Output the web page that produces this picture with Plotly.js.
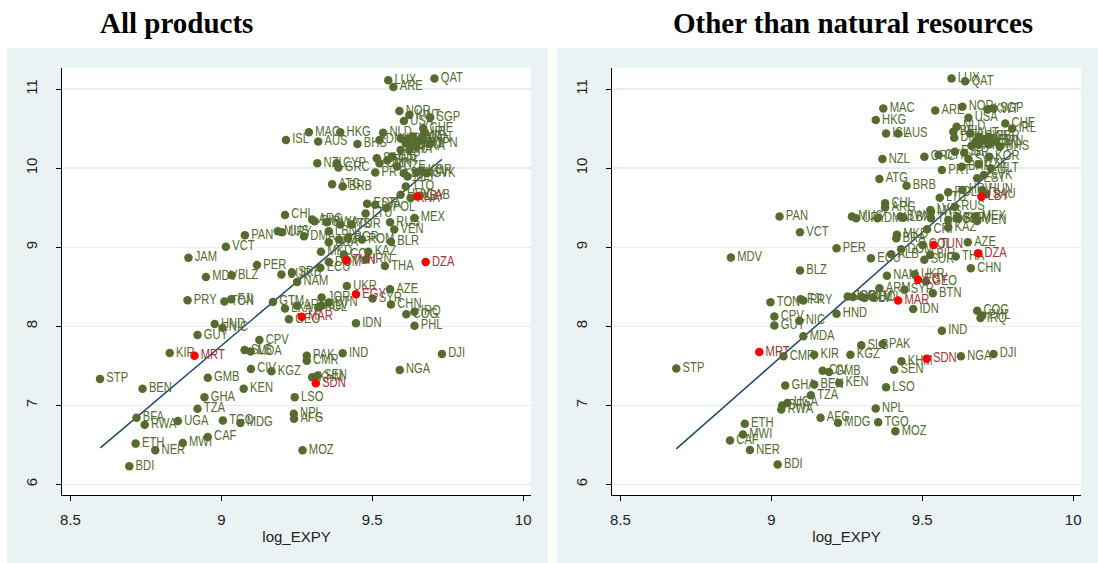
<!DOCTYPE html>
<html>
<head>
<meta charset="utf-8">
<script src="https://cdn.plot.ly/plotly-3.0.1.min.js"></script>
<style>html,body{margin:0;padding:0;background:#fff;}#chart{width:1098px;height:563px;}</style>
</head>
<body>
<div id="chart"></div>
<script>
// ---- Panel 1: All products ----
const allCodes = ["LUX","QAT","ARE","NOR","KWT","USA","SGP","CHE","IRL","MAC","HKG","ISL","AUS","BHS","NLD","DNK","AUT","BEL","SWE","FIN","DEU","GBR","FRA","CAN","JPN","ITA","ISR","ESP","SAU","OMN","BHR","NZL","CYP","GRC","PRT","CZE","SVN","MLT","HUN","KOR","SVK","TTO","ATG","BRB","LBY","HRV","KNA","GAB","EST","LVA","POL","LTU","RUS","MEX","VEN","TUR","BLR","ROM","BGR","CHL","ARG","BIH","MUS","URY","BWA","MYS","LBN","DMA","CRI","BRA","MKD","COL","KAZ","TUN","DOM","IRN","THA","ECU","DZA","JAM","PAN","VCT","PER","MDV","BLZ","SUR","SRB","NAM","UKR","EGY","AZE","SYR","CHN","COG","IRQ","PHL","IDN","PRY","TON","FJI","GTM","JOR","ARM","LKA","BTN","SLV","BOL","MAR","GEO","HND","NIC","GUY","CPV","SLB","MDA","KIR","MRT","PAK","CMR","IND","DJI","CIV","KGZ","NGA","STP","GMB","BEN","KEN","KHM","SEN","SDN","GHA","LSO","TZA","NPL","AFG","BFA","RWA","UGA","TGO","MDG","CAF","ETH","NER","MWI","MOZ","BDI"];
const allExpy = [9.553,9.706,9.570,9.590,9.623,9.605,9.692,9.669,9.675,9.290,9.394,9.214,9.321,9.451,9.536,9.524,9.594,9.617,9.634,9.652,9.628,9.611,9.646,9.663,9.692,9.623,9.594,9.565,9.515,9.524,9.550,9.318,9.382,9.388,9.510,9.582,9.605,9.617,9.646,9.663,9.681,9.611,9.367,9.402,9.649,9.594,9.627,9.658,9.483,9.510,9.547,9.478,9.559,9.640,9.573,9.431,9.562,9.466,9.420,9.211,9.301,9.309,9.187,9.201,9.350,9.394,9.356,9.274,9.390,9.356,9.330,9.406,9.487,9.414,9.356,9.479,9.542,9.328,9.677,8.891,9.078,9.015,9.118,8.949,9.034,9.199,9.234,9.251,9.416,9.446,9.559,9.501,9.562,9.613,9.640,9.640,9.446,8.888,9.010,9.033,9.171,9.332,9.251,9.211,9.356,9.332,9.321,9.266,9.224,8.978,9.004,8.921,9.126,9.077,9.097,8.829,8.911,9.283,9.283,9.402,9.731,9.098,9.166,9.591,8.598,8.955,8.739,9.074,9.301,9.319,9.313,8.944,9.243,8.921,9.240,9.241,8.719,8.746,8.856,9.005,9.063,8.955,8.716,8.781,8.872,9.269,8.695];
const allGdp = [11.113,11.134,11.029,10.723,10.673,10.597,10.643,10.505,10.450,10.454,10.454,10.358,10.337,10.307,10.450,10.358,10.379,10.358,10.400,10.337,10.295,10.316,10.274,10.379,10.316,10.232,10.232,10.150,10.127,10.064,10.100,10.064,10.064,10.009,9.946,10.022,9.938,9.896,9.946,9.971,9.938,9.770,9.799,9.770,9.644,9.665,9.623,9.652,9.552,9.539,9.497,9.426,9.317,9.371,9.224,9.287,9.069,9.098,9.119,9.409,9.350,9.329,9.203,9.191,9.317,9.287,9.203,9.140,9.098,9.065,8.943,8.909,8.943,8.834,8.813,8.846,8.762,8.741,8.813,8.867,9.153,9.006,8.775,8.624,8.645,8.657,8.678,8.561,8.510,8.406,8.469,8.351,8.275,8.154,8.183,8.007,8.040,8.330,8.313,8.343,8.309,8.364,8.259,8.225,8.301,8.259,8.238,8.120,8.091,8.028,7.982,7.889,7.826,7.700,7.683,7.662,7.629,7.629,7.566,7.658,7.650,7.461,7.432,7.448,7.335,7.348,7.209,7.209,7.356,7.377,7.280,7.104,7.104,6.957,6.894,6.831,6.844,6.756,6.802,6.810,6.777,6.600,6.516,6.432,6.525,6.432,6.231];
const allFitX = [8.599, 9.731];
const allFitY = [6.462, 10.114];

// ---- Panel 2: Other than natural resources ----
const nnrCodes = ["LUX","QAT","MAC","ARE","NOR","KWT","SGP","HKG","USA","CHE","IRL","ISL","AUS","NLD","BEL","DNK","BHS","JPN","AUT","SWE","FIN","DEU","GBR","FRA","CAN","ITA","NZL","GRC","CYP","ESP","ISR","PRT","BHR","KOR","SVN","CZE","MLT","SVK","HUN","EST","ATG","BRB","LBY","HRV","POL","LTU","SAU","CHL","ARG","LVA","RUS","BLR","MEX","VEN","MUS","URY","DMA","BWA","LBN","TUR","BGR","ROM","MYS","CRI","KAZ","BRA","MKD","PAN","VCT","PER","MDV","ECU","ALB","DOM","COL","TUN","AZE","DZA","BIH","SUR","THA","CHN","BLZ","NAM","UKR","EGY","GEO","ARM","SYR","BTN","MAR","IDN","TON","FJI","PRY","JOR","LKA","GTM","SLV","BOL","HND","CPV","GUY","NIC","MDA","COG","IRQ","PHL","IND","SLB","PAK","MRT","CMR","KIR","KGZ","SDN","NGA","DJI","KHM","SEN","STP","CIV","GMB","GHA","BEN","KEN","LSO","TZA","UGA","BFA","RWA","NPL","AFG","MDG","TGO","MOZ","ETH","MWI","CAF","NER","BDI"];
const nnrExpy = [9.597,9.642,9.371,9.543,9.633,9.716,9.736,9.346,9.653,9.775,9.798,9.380,9.420,9.614,9.603,9.606,9.757,9.744,9.659,9.687,9.676,9.704,9.721,9.687,9.721,9.663,9.368,9.507,9.554,9.608,9.639,9.565,9.631,9.721,9.653,9.687,9.727,9.704,9.699,9.682,9.358,9.448,9.696,9.633,9.586,9.558,9.712,9.377,9.377,9.527,9.608,9.614,9.676,9.682,9.267,9.281,9.352,9.428,9.437,9.529,9.586,9.620,9.529,9.516,9.586,9.414,9.416,9.027,9.095,9.216,8.866,9.330,9.397,9.430,9.501,9.538,9.651,9.685,9.526,9.507,9.611,9.661,9.095,9.383,9.475,9.486,9.512,9.358,9.441,9.535,9.420,9.470,8.997,9.097,9.106,9.253,9.270,9.298,9.309,9.337,9.216,9.010,9.010,9.093,9.106,9.682,9.693,9.699,9.565,9.298,9.369,8.960,9.040,9.142,9.262,9.515,9.628,9.736,9.431,9.407,8.685,9.170,9.191,9.046,9.142,9.225,9.380,9.131,9.053,9.036,9.033,9.346,9.163,9.221,9.354,9.411,8.912,8.906,8.863,8.929,9.021];
const nnrGdp = [11.135,11.101,10.756,10.731,10.777,10.743,10.756,10.609,10.638,10.566,10.503,10.440,10.440,10.524,10.461,10.386,10.272,10.335,10.440,10.398,10.335,10.356,10.398,10.301,10.301,10.284,10.116,10.146,10.167,10.209,10.196,9.977,10.019,10.146,10.116,10.049,10.000,9.914,9.725,9.872,9.864,9.779,9.641,9.725,9.695,9.628,9.670,9.556,9.502,9.472,9.514,9.367,9.388,9.333,9.388,9.367,9.367,9.388,9.375,9.367,9.346,9.367,9.451,9.228,9.249,9.114,9.157,9.388,9.190,8.988,8.870,8.862,8.912,8.976,9.030,9.030,9.064,8.925,8.904,8.841,8.883,8.736,8.706,8.639,8.660,8.588,8.567,8.483,8.462,8.420,8.327,8.218,8.306,8.344,8.327,8.378,8.370,8.378,8.357,8.365,8.159,8.125,8.012,8.071,7.873,8.197,8.104,8.138,7.944,7.759,7.776,7.675,7.620,7.641,7.641,7.591,7.620,7.650,7.557,7.452,7.465,7.439,7.423,7.250,7.263,7.284,7.229,7.128,7.031,6.998,6.947,6.960,6.842,6.779,6.787,6.673,6.766,6.631,6.556,6.434,6.253];
const nnrFitX = [8.685, 9.800];
const nnrFitY = [6.450, 10.196];

const highlighted = ["DZA","EGY","LBY","MAR","MRT","SDN","TUN"];
const xTicks = [8.5, 9, 9.5, 10];
const xTickText = ["8.5", "9", "9.5", "10"];
const yTicks = [6, 7, 8, 9, 10, 11];
const yTickText = ["6", "7", "8", "9", "10", "11"];

const W = 1098, H = 563;
const GREEN = "rgb(85,107,47)";
const RED = "#ff0000";
const REDTXT = "#a8323a";
const NAVY = "#1a476f";
const LABEL_FONT = "'Liberation Sans', Arial, sans-serif";

function split(codes, xs, ys, wantRed) {
  const o = {x: [], y: [], t: []};
  codes.forEach((c, i) => {
    if ((highlighted.indexOf(c) >= 0) === wantRed) { o.x.push(xs[i]); o.y.push(ys[i]); o.t.push(c); }
  });
  return o;
}
function scatter(d, xa, ya, mcol, tcol) {
  return {type: "scatter", mode: "markers+text", x: d.x, y: d.y, text: d.t,
    textposition: "middle right", cliponaxis: false,
    marker: {color: mcol, size: 8.5, line: {width: 0}},
    textfont: {family: LABEL_FONT, size: 14, color: tcol},
    xaxis: xa, yaxis: ya, hoverinfo: "text", showlegend: false};
}
const traces = [];
[[allCodes, allExpy, allGdp, allFitX, allFitY, "x", "y"],
 [nnrCodes, nnrExpy, nnrGdp, nnrFitX, nnrFitY, "x2", "y2"]].forEach(p => {
  traces.push({type: "scatter", mode: "lines", x: p[3], y: p[4], line: {color: NAVY, width: 1.5},
    xaxis: p[5], yaxis: p[6], hoverinfo: "skip", showlegend: false});
  traces.push(scatter(split(p[0], p[1], p[2], false), p[5], p[6], GREEN, GREEN));
  traces.push(scatter(split(p[0], p[1], p[2], true), p[5], p[6], RED, REDTXT));
});

const fx = v => v / W, fy = v => 1 - v / H;
const plotTop = 67.7, plotBot = 495;
const L1 = [62, 531], L2 = [612, 1081];
const xRange = [8.472, 10.026], yRange = [5.866, 11.272];
const tickFont = {family: "'Liberation Sans', Arial, sans-serif", size: 15, color: "#222"};

function xAxis(dom, anchor) {
  return {domain: [fx(dom[0]), fx(dom[1])], range: xRange, anchor: anchor,
    showgrid: false, zeroline: false, showline: true, linecolor: "#000", linewidth: 1,
    ticks: "outside", ticklen: 5, tickcolor: "#000", tickwidth: 1,
    tickvals: xTicks, ticktext: xTickText, tickfont: tickFont, ticklabelstandoff: 6,
    title: {text: "log_EXPY", font: tickFont, standoff: 4}, fixedrange: true};
}
function yAxis(anchor) {
  return {domain: [fy(plotBot), fy(plotTop)], range: yRange, anchor: anchor,
    showgrid: true, gridcolor: "#e6eef0", gridwidth: 1.5, zeroline: false,
    showline: true, linecolor: "#000", linewidth: 1,
    ticks: "outside", ticklen: 5, tickcolor: "#000", tickwidth: 1,
    tickvals: yTicks, ticktext: yTickText, tickfont: tickFont, tickangle: -90,
    ticklabelstandoff: 13, fixedrange: true};
}
const PANEL = "#eaf2f3";
const titleFont = {family: "'Liberation Serif', 'Times New Roman', serif", size: 29, color: "#000"};
const layout = {
  width: W, height: H, margin: {l: 0, r: 0, t: 0, b: 0},
  paper_bgcolor: "#ffffff", plot_bgcolor: "#ffffff",
  xaxis: xAxis(L1, "y"), yaxis: yAxis("x"),
  xaxis2: xAxis(L2, "y2"), yaxis2: yAxis("x2"),
  shapes: [
    {type: "rect", xref: "paper", yref: "paper", x0: fx(7), x1: fx(548), y0: fy(563), y1: fy(48), fillcolor: PANEL, line: {width: 0}, layer: "below"},
    {type: "rect", xref: "paper", yref: "paper", x0: fx(557), x1: fx(1098), y0: fy(563), y1: fy(48), fillcolor: PANEL, line: {width: 0}, layer: "below"},
    {type: "rect", xref: "paper", yref: "paper", x0: fx(L1[0]), x1: fx(L1[1]), y0: fy(plotBot), y1: fy(plotTop), fillcolor: "#ffffff", line: {width: 0}, layer: "below"},
    {type: "rect", xref: "paper", yref: "paper", x0: fx(L2[0]), x1: fx(L2[1]), y0: fy(plotBot), y1: fy(plotTop), fillcolor: "#ffffff", line: {width: 0}, layer: "below"}
  ],
  annotations: [
    {text: "<b>All products</b>", xref: "paper", yref: "paper", x: fx(176), y: fy(23), showarrow: false,
     font: titleFont, xanchor: "center", yanchor: "middle"},
    {text: "<b>Other than natural resources</b>", xref: "paper", yref: "paper", x: fx(853), y: fy(23), showarrow: false,
     font: titleFont, xanchor: "center", yanchor: "middle"}
  ]
};
Plotly.newPlot("chart", traces, layout, {displayModeBar: false, staticPlot: true}).then(gd => {
  // narrow the country labels horizontally, like the condensed face in the reference
  gd.querySelectorAll(".textpoint text").forEach(t => {
    const x = parseFloat(t.getAttribute("x")), y = parseFloat(t.getAttribute("y"));
    if (isFinite(x) && isFinite(y)) {
      t.setAttribute("transform", "translate(" + x + "," + y + ") scale(0.8,1) translate(" + (-x) + "," + (-y) + ")");
    }
  });
});
</script>
</body>
</html>
